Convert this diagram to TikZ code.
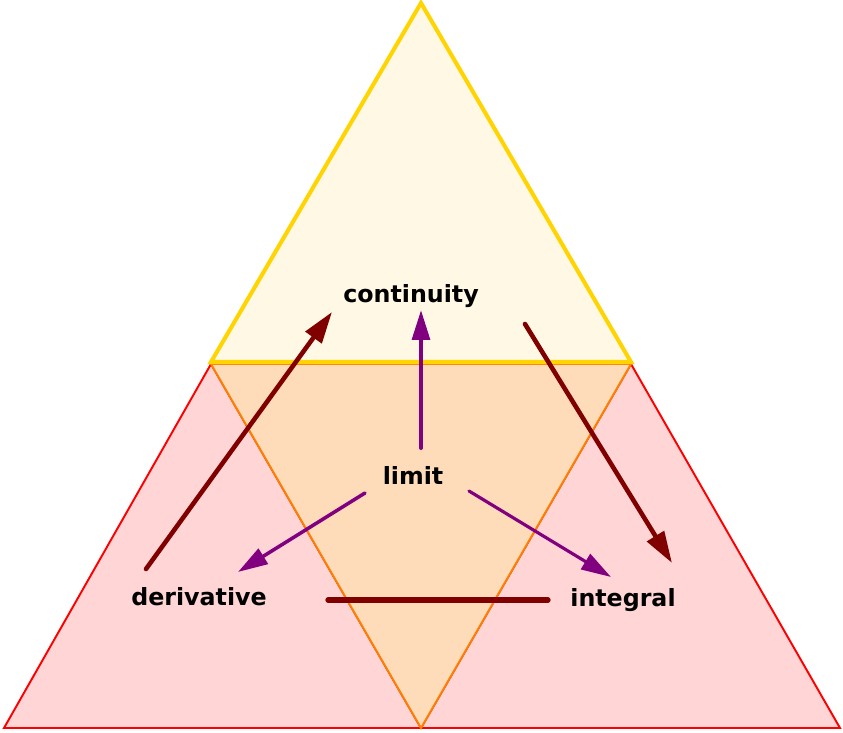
\documentclass[tikz,border=0pt]{standalone}
\usepackage{fontspec}
\setmainfont{DejaVu Sans}
\usetikzlibrary{arrows.meta,calc}
\definecolor{goldline}{HTML}{FFD400}
\definecolor{goldfill}{HTML}{FFF8E4}
\definecolor{pinkfill}{HTML}{FFD5D6}
\definecolor{peachfill}{HTML}{FEDCBA}
\definecolor{orangeline}{HTML}{FF7F00}
\definecolor{purparr}{HTML}{800080}
\definecolor{redarr}{HTML}{800000}
\tikzset{lbl/.style={font=\fontsize{13.5}{15}\selectfont\bfseries, anchor=base, inner sep=0pt},
  purp/.style={draw=purparr, line width=2.3pt, line cap=round, -{Triangle[length=17pt, width=10pt]}},
  dred/.style={draw=redarr, line width=2.6pt, line cap=round, -{Triangle[length=18pt, width=11pt]}}}

\begin{document}
\begin{tikzpicture}[x=0.02cm, y=-0.02cm]
  \useasboundingbox (0,0) rectangle (843,733);
  % lower triangles
  \draw[red, line width=1.1pt, fill=pinkfill] (211,364) -- (4,728) -- (421,728) -- cycle;
  \draw[red, line width=1.1pt, fill=pinkfill] (631,364) -- (421,728) -- (840,728) -- cycle;
  \draw[orangeline, line width=1.1pt, fill=peachfill] (211,364) -- (631,364) -- (421,728) -- cycle;
  % top triangle
  \draw[goldline, line width=2.3pt, fill=goldfill, line join=miter] (421,3) -- (631,362) -- (211,362) -- cycle;
  % labels
  \node[lbl] (cont) at (411,303) {continuity};
  \node[lbl] (limit) at (413,485) {limit};
  \node[lbl] (deriv) at (199,605) {derivative};
  \node[lbl] (integ) at (623,607) {integral};
  % limit arrows
  \draw[purp] ($(limit.base)+(8,-37)$) -- ($(cont.base)+(10,7)$);
  \draw[purp, line width=2pt] ($(limit.base)+(-48,8)$) -- ($(deriv.base)+(39,-33)$);
  \draw[purp, line width=1.8pt] ($(limit.base)+(56,6)$) -- ($(integ.base)+(-12,-30)$);
  % outer arrows
  \draw[dred] ($(deriv.base)+(-53,-36)$) -- ($(cont.base)+(-79,9)$);
  \draw[dred] ($(cont.base)+(114,21)$) -- ($(integ.base)+(49,-44)$);
  \draw[redarr, line width=3pt, line cap=round] ($(deriv.base)+(129,-5)$) -- ($(integ.base)+(-75,-7)$);
\end{tikzpicture}
\end{document}
